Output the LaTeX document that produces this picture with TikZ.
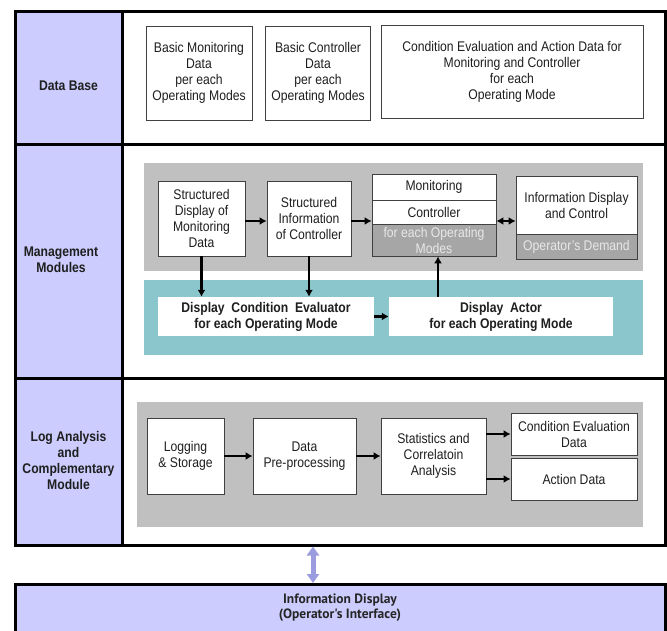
\documentclass[tikz,border=0pt]{standalone}
\usepackage{fontspec}
\setmainfont[FakeStretch=0.87]{Liberation Sans}
\newfontfamily\uifont{PT Sans}
\usetikzlibrary{arrows.meta}
\definecolor{lav}{RGB}{204,204,255}
\definecolor{panelgray}{RGB}{192,192,192}
\definecolor{darkpart}{RGB}{166,166,166}
\definecolor{tealbg}{RGB}{139,198,204}
\definecolor{edge}{RGB}{64,64,64}
\definecolor{paletxt}{RGB}{232,232,232}
\definecolor{linkpurple}{RGB}{155,155,224}
\tikzset{
  txt/.style={font=\fontsize{14}{16}\selectfont, align=center, text=black!88},
  box/.style={txt, draw=edge, line width=0.8pt, fill=white, inner sep=0pt},
  shade/.style={box, fill=darkpart, text=paletxt},
  bar/.style={txt, fill=white, inner sep=0pt, font=\bfseries\fontsize{14}{16}\selectfont},
  side/.style={txt, font=\bfseries\fontsize{14}{16}\selectfont},
  flow/.style={line width=2.4pt, -{Latex[length=7pt,width=8pt]}},
  flow2/.style={line width=2.4pt, {Latex[length=7pt,width=8pt]}-{Latex[length=7pt,width=8pt]}},
}
\begin{document}
\begin{tikzpicture}[x=1pt,y=-1pt]
\clip (0,0) rectangle (667,631);
\fill[white] (0,0) rectangle (667,631);

% left label column
\fill[lav] (15,12) rectangle (122,545);

% inner panels
\fill[panelgray] (144,163) rectangle (643,271);
\fill[tealbg] (144,280) rectangle (643,355);
\fill[panelgray] (137,402) rectangle (643,527);

% outer frame and row separators
\node[draw, line width=3pt, minimum width=650pt, minimum height=533pt, inner sep=0pt] (frame) at (340,278.5) {};
\draw[line width=3pt] (15,145) -- (665,145);
\draw[line width=3pt] (15,378) -- (665,378);
\draw[line width=3pt] (122,12) -- (122,545);

% row labels
\node[side] (lbldb) at (68.5,86) {Data Base};
\node[side] (lblmm) at (61,260) {Management\\Modules};
\node[side] (lbllog) at (68.5,460) {Log Analysis\\and\\Complementary\\Module};

% data base row
\node[box, minimum width=106pt, minimum height=94pt] (db1) at (199,73) {Basic Monitoring\\Data\\per each\\Operating Modes};
\node[box, minimum width=105pt, minimum height=94pt] (db2) at (318,73) {Basic Controller\\Data\\per each\\Operating Modes};
\node[box, minimum width=262pt, minimum height=93pt] (db3) at (512,71.5) {Condition Evaluation and Action Data for\\Monitoring and Controller\\for each\\Operating Mode};

% management modules row
\node[box, minimum width=87pt, minimum height=75pt] (sd) at (201.5,218.5) {Structured\\Display of\\Monitoring\\Data};
\node[box, minimum width=84pt, minimum height=75pt] (si) at (309,218.5) {Structured\\Information\\of Controller};
\node[box, minimum width=124pt, minimum height=26pt] (mon) at (434,187) {Monitoring};
\node[box, minimum width=124pt, minimum height=24pt] (ctl) at (434,212) {Controller};
\node[shade, minimum width=124pt, minimum height=32pt] (modes) at (434,240) {for each Operating\\Modes};
\node[box, minimum width=121pt, minimum height=58pt] (infotop) at (576.5,205) {Information Display\\and Control};
\node[shade, minimum width=121pt, minimum height=25pt] (infobot) at (576.5,246.5) {Operator's Demand};
\node[bar, minimum width=216pt, minimum height=39pt] (dce) at (266,316.5) {Display\ \ Condition\ \ Evaluator\\for each Operating Mode};
\node[bar, minimum width=224pt, minimum height=39pt] (da) at (501,316.5) {Display\ \ Actor\\for each Operating Mode};

\draw[flow] (sd.east |- 0,221) -- (si.west |- 0,221);
\draw[flow] (si.east |- 0,221) -- (ctl.west |- 0,221);
\draw[flow2] (ctl.east |- 0,221) -- (infotop.west |- 0,221);
\draw[flow] (sd.south) -- (sd.south |- dce.north);
\draw[flow] (si.south) -- (si.south |- dce.north);
\draw[flow] (dce.east) -- (da.west);
\draw[flow] (da.north -| 438,0) -- (modes.south -| 438,0);

% log analysis row
\node[box, minimum width=77pt, minimum height=76pt] (logst) at (185.5,456) {Logging\\\& Storage};
\node[box, minimum width=103pt, minimum height=76pt] (dp) at (304.5,456) {Data\\Pre-processing};
\node[box, minimum width=105pt, minimum height=76pt] (st) at (433.5,456) {Statistics and\\Correlatoin\\Analysis};
\node[box, minimum width=126pt, minimum height=42pt] (ce) at (574,434) {Condition Evaluation\\Data};
\node[box, minimum width=126pt, minimum height=42pt] (ad) at (574,479) {Action Data};

\draw[flow] (logst.east) -- (dp.west);
\draw[flow] (dp.east) -- (st.west);
\draw[flow] (st.east |- ce.west) -- (ce.west);
\draw[flow] (st.east |- ad.west) -- (ad.west);

% operator interface
\node[draw, line width=3pt, fill=lav, minimum width=650pt, minimum height=70pt, inner sep=0pt, anchor=north] (ui) at (340,583) {};
\node[font=\uifont\bfseries\fontsize{13.5}{15.5}\selectfont, align=center, text=black!85] (uitxt) at (340,607.5) {Information Display\\(Operator's Interface)};
\coordinate (link) at (313,0);
\draw[line width=5pt, linkpurple, {Triangle[length=9pt,width=12pt]}-{Triangle[length=9pt,width=12pt]}] (frame.south -| link) -- (ui.north -| link);
\end{tikzpicture}
\end{document}
